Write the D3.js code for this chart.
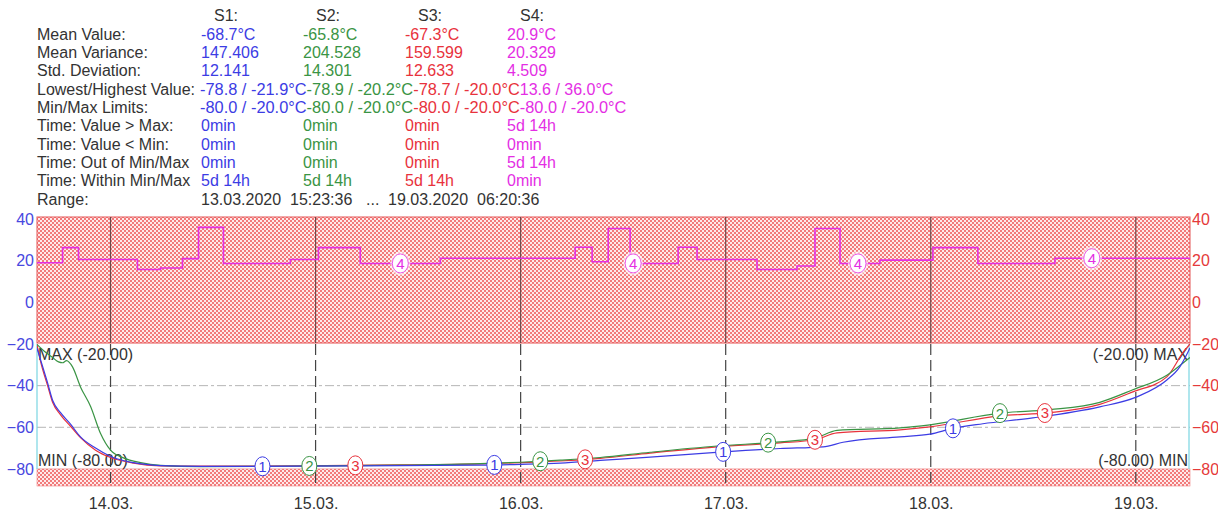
<!DOCTYPE html>
<html><head><meta charset="utf-8">
<script src="https://cdn.jsdelivr.net/npm/d3@7"></script>
<style>
html,body{margin:0;padding:0;background:#fff;}
svg{display:block;font-family:"Liberation Sans",Arial,sans-serif;}
</style></head>
<body>
<svg id="chart" width="1218" height="515"></svg>
<script>
// ---------- header statistics ----------
const seriesNames = ["S1:", "S2:", "S3:", "S4:"];
const rowLabels = ["Mean Value:", "Mean Variance:", "Std. Deviation:", "Lowest/Highest Value:", "Min/Max Limits:",
  "Time: Value > Max:", "Time: Value < Min:", "Time: Out of Min/Max", "Time: Within Min/Max"];
const statsS1 = ["-68.7°C", "147.406", "12.141", "-78.8 / -21.9°C", "-80.0 / -20.0°C", "0min", "0min", "0min", "5d 14h"];
const statsS2 = ["-65.8°C", "204.528", "14.301", "-78.9 / -20.2°C", "-80.0 / -20.0°C", "0min", "0min", "0min", "5d 14h"];
const statsS3 = ["-67.3°C", "159.599", "12.633", "-78.7 / -20.0°C", "-80.0 / -20.0°C", "0min", "0min", "0min", "5d 14h"];
const statsS4 = ["20.9°C", "20.329", "4.509", "13.6 / 36.0°C", "-80.0 / -20.0°C", "5d 14h", "0min", "5d 14h", "0min"];
const rangeParts = ["13.03.2020", "15:23:36", "...", "19.03.2020", "06:20:36"];
const rangeStart = "13.03.2020 15:23:36";
const rangeEnd = "19.03.2020 06:20:36";

// ---------- limits & ticks ----------
const maxLimit = -20, minLimit = -80;
const yTicks = [40, 20, 0, -20, -40, -60, -80];
const gridValues = [-40, -60];

// ---------- series data (time "dd.mm HH:MM" in 2020, °C) ----------
const s1Times = ["13.03 15:23","13.03 15:49","13.03 16:38","13.03 17:13","13.03 18:09","13.03 19:19","13.03 20:29","13.03 22:15",
  "14.03 00:00","14.03 02:41","14.03 05:51","14.03 10:32","14.03 22:13","15.03 09:55","15.03 19:16","16.03 00:00","16.03 04:38",
  "16.03 09:19","16.03 15:09","16.03 23:42","17.03 06:22","17.03 11:24","17.03 13:44","17.03 20:24","17.03 23:54","18.03 02:36",
  "18.03 06:06","18.03 11:57","18.03 19:47","19.03 00:07","19.03 03:38","19.03 05:09","19.03 06:20"];
const s1Values = [-21.9,-27.7,-38.7,-47,-53,-58.5,-64.6,-70,-74,-77,-78.4,-78.8,-78.7,-78.4,-78.2,-77.8,-77.2,
  -75.9,-74.3,-71.8,-70.2,-69.4,-67.2,-64.6,-63.3,-60.5,-58.3,-55.5,-50.2,-45.4,-37.3,-31,-21.9];

const s2Times = ["13.03 15:23","13.03 16:24","13.03 17:13","13.03 17:55","13.03 18:23","13.03 18:51","13.03 19:33","13.03 20:29",
  "13.03 21:40","13.03 22:50","14.03 00:00","14.03 01:31","14.03 03:31","14.03 05:51","14.03 10:32","14.03 22:13","15.03 09:55",
  "15.03 19:16","16.03 00:00","16.03 04:38","16.03 09:19","16.03 15:09","16.03 23:00","17.03 06:22","17.03 10:27","17.03 13:02",
  "17.03 20:24","17.03 23:54","18.03 08:06","18.03 13:57","18.03 19:47","18.03 23:39","19.03 03:38","19.03 05:58","19.03 06:20"];
const s2Values = [-20.2,-24,-26.5,-28.6,-29,-28,-31,-40.6,-50,-63,-71,-74.7,-77,-78.3,-78.9,-78.6,-78.2,
  -77.5,-76.8,-75.8,-74.5,-72,-69,-67,-65.2,-61.5,-60.3,-58.8,-53.2,-51.5,-48,-42,-35,-27.7,-26.5];

const s3Times = ["13.03 15:23","13.03 15:49","13.03 16:38","13.03 17:13","13.03 18:09","13.03 19:19","13.03 20:29","13.03 22:15",
  "14.03 00:00","14.03 02:41","14.03 05:51","14.03 10:32","14.03 22:13","15.03 09:55","15.03 19:16","16.03 00:00","16.03 04:38",
  "16.03 09:19","16.03 15:09","16.03 23:00","17.03 06:22","17.03 10:27","17.03 13:02","17.03 20:24","17.03 23:54","18.03 08:06",
  "18.03 13:57","18.03 19:47","18.03 23:39","19.03 03:38","19.03 05:30","19.03 06:20"];
const s3Values = [-20,-28.5,-40,-48,-54,-59.5,-65,-71,-74.5,-77.2,-78.5,-78.7,-78.5,-78.1,-77.6,-77,-76.2,
  -74.9,-72.4,-69.4,-67.5,-66,-62.7,-61.2,-59.8,-54.5,-53,-49,-43,-35.8,-24.3,-20];

const s4Times = ["13.03 15:23","13.03 18:23","13.03 20:15","14.03 03:09","14.03 05:51","14.03 08:25","14.03 10:18","14.03 13:13",
  "14.03 21:03","15.03 00:20","15.03 05:14","15.03 14:36","16.03 06:23","16.03 08:22","16.03 10:15","16.03 12:49","16.03 18:26",
  "16.03 20:39","17.03 03:40","17.03 08:21","17.03 10:27","17.03 13:23","17.03 18:03","18.03 00:15","18.03 05:31","18.03 14:32","19.03 06:20"];
const s4Values = [19,26.3,20.6,15.8,16.5,21,36,18.7,20.6,26.3,18.7,21.2,26.5,19.5,35.5,18.7,26.5,
  20.6,15.8,17.5,35.5,18.7,20.3,26.3,18.7,21.2,21.2];

// label marker times
const s1LabelTimes = ["14.03 17:47","15.03 20:55","16.03 23:42","18.03 02:36"];
const s2LabelTimes = ["14.03 23:16","16.03 02:18","17.03 04:58","18.03 08:06"];
const s3LabelTimes = ["15.03 04:39","16.03 07:33","17.03 10:27","18.03 13:21"];
const s4LabelTimes = ["15.03 09:55","16.03 13:10","17.03 15:29","18.03 18:51"];

// ---------- styling ----------
const colors = {s1:"#3c3ce4", s2:"#3a9444", s3:"#e8323c", s4:"#e42ee4", text:"#333333", leftAxis:"#4848e0", rightAxis:"#e53a3a"};

const svg = d3.select("#chart");
const parseShort = d3.timeParse("%d.%m.%Y %H:%M");
const pt = s => { const [d, t] = s.split(" "); return parseShort(d + ".2020 " + t); };
const parseFull = d3.timeParse("%d.%m.%Y %H:%M:%S");

const x = d3.scaleTime().domain([parseFull(rangeStart), parseFull(rangeEnd)]).range([37, 1190]);
const y = d3.scaleLinear().domain([-88.2, 41]).range([486, 217]);

// ---------- header ----------
const hdr = svg.append("g").attr("font-size", 16);
const colX = [201, 303, 405, 507];
const sColors = [colors.s1, colors.s2, colors.s3, colors.s4];
const stats = [statsS1, statsS2, statsS3, statsS4];
const rowY = i => 39.5 + i * 18.35;
seriesNames.forEach((n, i) => hdr.append("text").attr("x", colX[i] + 13).attr("y", 21).attr("fill", colors.text).text(n));
rowLabels.forEach((l, r) => hdr.append("text").attr("x", 37).attr("y", rowY(r)).attr("fill", colors.text).text(l));
stats.forEach((col, i) => col.forEach((v, r) => {
  const flowing = (r === 3 || r === 4);
  const t = hdr.append("text").attr("y", rowY(r)).attr("fill", sColors[i]).text(v);
  if (flowing) {
    t.attr("x", 200 + i * 106.6);
    if (v.length >= 15) t.attr("textLength", 106.6).attr("lengthAdjust", "spacingAndGlyphs");
  } else t.attr("x", colX[i]);
}));
const rangeX = [201, 290, 366, 388, 477];
hdr.append("text").attr("x", 37).attr("y", rowY(9)).attr("fill", colors.text).text("Range:");
rangeParts.forEach((p, i) => hdr.append("text").attr("x", rangeX[i]).attr("y", rowY(9)).attr("fill", colors.text).text(p));

// ---------- hatch pattern ----------
const defs = svg.append("defs");
const pat = defs.append("pattern").attr("id", "hatch").attr("width", 4).attr("height", 4).attr("patternUnits", "userSpaceOnUse");
pat.append("rect").attr("width", 4).attr("height", 4).attr("fill", "#f27a7a");
pat.append("rect").attr("width", 2).attr("height", 2).attr("fill", "#feeaea");
pat.append("rect").attr("x", 2).attr("y", 2).attr("width", 2).attr("height", 2).attr("fill", "#feeaea");
defs.append("clipPath").attr("id", "clip").append("rect")
  .attr("x", x.range()[0]).attr("y", y.range()[1]).attr("width", x.range()[1] - x.range()[0]).attr("height", y.range()[0] - y.range()[1]);

const [x0, x1] = x.range();
// top panel (above MAX)
svg.append("rect").attr("x", x0).attr("y", y(41)).attr("width", x1 - x0).attr("height", y(maxLimit) - y(41) - 1)
  .attr("fill", "url(#hatch)").attr("stroke", "#e45656").attr("stroke-width", 1);
// bottom band (below MIN)
svg.append("rect").attr("x", x0).attr("y", y(minLimit)).attr("width", x1 - x0).attr("height", y(-88.2) - y(minLimit))
  .attr("fill", "url(#hatch)").attr("stroke", "#ee8080").attr("stroke-width", 0.6);

// horizontal grid
svg.append("g").selectAll("line").data(gridValues).join("line")
  .attr("x1", x0).attr("x2", x1).attr("y1", d => y(d)).attr("y2", d => y(d))
  .attr("stroke", "#b5b5b5").attr("stroke-width", 1).attr("stroke-dasharray", "9,3,3,3");

// vertical day lines
const days = x.ticks(d3.timeDay.every(1));
const vg = svg.append("g");
vg.selectAll("line.top").data(days).join("line").attr("class", "top")
  .attr("x1", d => x(d)).attr("x2", d => x(d)).attr("y1", y(41)).attr("y2", y(maxLimit) - 1)
  .attr("stroke", "#6e4848").attr("stroke-width", 1.2);
vg.selectAll("line.bot").data(days).join("line").attr("class", "bot")
  .attr("x1", d => x(d)).attr("x2", d => x(d)).attr("y1", y(maxLimit)).attr("y2", y(-88.2) + 2)
  .attr("stroke", "#444").attr("stroke-width", 1.2).attr("stroke-dasharray", "11,5");

// cyan edges
svg.append("g").selectAll("line").data([x0, x1 - 1]).join("line")
  .attr("x1", d => d).attr("x2", d => d).attr("y1", y(maxLimit)).attr("y2", y(minLimit))
  .attr("stroke", "#7ad6e2").attr("stroke-width", 1.2);

// ---------- axes ----------
const fmtDay = d3.timeFormat("%d.%m.");
const xAxis = svg.append("g").attr("transform", `translate(0,${y(-88.2)})`)
  .call(d3.axisBottom(x).tickValues(days).tickFormat(fmtDay).tickSize(0).tickPadding(12));
xAxis.select(".domain").remove();
xAxis.selectAll("text").attr("font-size", 16).attr("fill", "#333").attr("font-family", "Liberation Sans, Arial, sans-serif");

const yl = svg.append("g").attr("transform", `translate(${x0},0)`)
  .call(d3.axisLeft(y).tickValues(yTicks).tickFormat(d3.format("d")).tickSize(0).tickPadding(3));
yl.select(".domain").remove();
yl.selectAll("text").attr("font-size", 16).attr("fill", colors.leftAxis).attr("font-family", "Liberation Sans, Arial, sans-serif");
const yr = svg.append("g").attr("transform", `translate(${x1},0)`)
  .call(d3.axisRight(y).tickValues(yTicks).tickFormat(d3.format("d")).tickSize(0).tickPadding(2));
yr.select(".domain").remove();
yr.selectAll("text").attr("font-size", 16).attr("fill", colors.rightAxis).attr("font-family", "Liberation Sans, Arial, sans-serif");

// limit labels
const lim = svg.append("g").attr("font-size", 16).attr("fill", colors.text);
lim.append("text").attr("x", x0 + 1).attr("y", y(maxLimit) + 16).text(`MAX (${maxLimit.toFixed(2)})`);
lim.append("text").attr("x", x0 + 1).attr("y", y(minLimit) - 3).text(`MIN (${minLimit.toFixed(2)})`);
lim.append("text").attr("x", x1 - 2).attr("y", y(maxLimit) + 16).attr("text-anchor", "end").text(`(${maxLimit.toFixed(2)}) MAX`);
lim.append("text").attr("x", x1 - 2).attr("y", y(minLimit) - 3).attr("text-anchor", "end").text(`(${minLimit.toFixed(2)}) MIN`);

// ---------- series ----------
const mk = (times, vals) => times.map((t, i) => ({t: pt(t), v: vals[i]}));
const series = [
  {id: "3", color: colors.s3, data: mk(s3Times, s3Values), labels: s3LabelTimes, step: false},
  {id: "2", color: colors.s2, data: mk(s2Times, s2Values), labels: s2LabelTimes, step: false},
  {id: "1", color: colors.s1, data: mk(s1Times, s1Values), labels: s1LabelTimes, step: false},
  {id: "4", color: colors.s4, data: mk(s4Times, s4Values), labels: s4LabelTimes, step: true}
];
const plot = svg.append("g").attr("clip-path", "url(#clip)");
series.forEach(s => {
  s.data[s.data.length - 1].t = parseFull(rangeEnd);
  const line = d3.line().x(d => x(d.t)).y(d => y(d.v)).curve(s.step ? d3.curveStepAfter : d3.curveMonotoneX);
  plot.append("path").datum(s.data).attr("d", line).attr("fill", "none")
    .attr("stroke", s.color).attr("stroke-width", s.step ? 1.6 : 1.2);
});
const bis = d3.bisector(d => d.t).right;
const valueAt = (s, t) => {
  const i = bis(s.data, t);
  if (s.step) return s.data[Math.max(0, i - 1)].v;
  const a = s.data[Math.max(0, i - 1)], b = s.data[Math.min(s.data.length - 1, i)];
  if (a === b) return a.v;
  return a.v + (b.v - a.v) * (t - a.t) / (b.t - a.t);
};
const lab = svg.append("g");
series.forEach(s => s.labels.forEach(ts => {
  const t = pt(ts), v = valueAt(s, t);
  const g = lab.append("g").attr("transform", `translate(${x(t)},${y(v)})`);
  if (s.step) g.append("ellipse").attr("rx", 10).attr("ry", 12).attr("fill", "#fff").attr("opacity", 0.6);
  g.append("ellipse").attr("rx", s.step ? 8 : 7.5).attr("ry", s.step ? 9.5 : 9.5)
    .attr("fill", "#fff").attr("stroke", s.color).attr("stroke-width", s.step ? 0.8 : 1);
  g.append("text").attr("text-anchor", "middle").attr("dy", "0.36em").attr("font-size", 15)
    .attr("fill", s.color).text(s.id);
}));
</script>
</body></html>
